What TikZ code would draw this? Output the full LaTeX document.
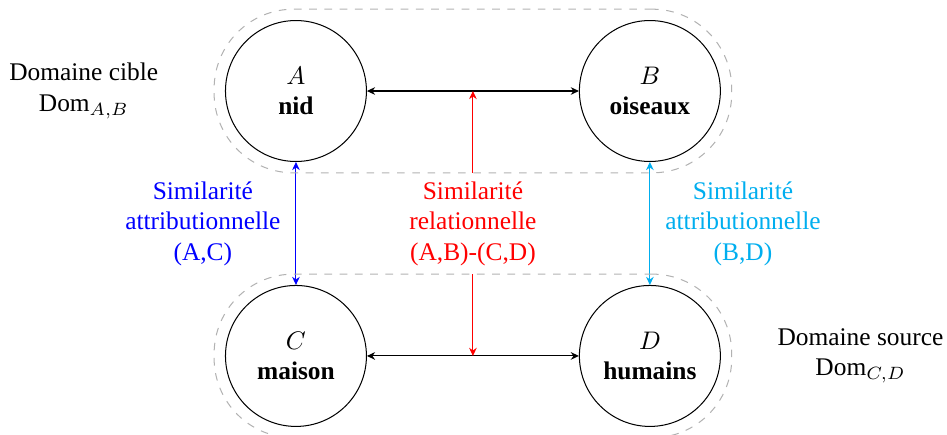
\documentclass[tikz,border=0pt]{standalone}
\usepackage{fontspec}
\setmainfont{Liberation Serif}
\usepackage{tikz}
\usetikzlibrary{positioning}
\usetikzlibrary{calc}
\usetikzlibrary{arrows.meta}
\usetikzlibrary{fit}
\definecolor{skyblue}{RGB}{0,174,239}

\begin{document}
\begin{tikzpicture}[
    >={Stealth[length=3.2pt,width=3pt]},
    concept/.style={circle, draw, minimum size=1.95cm, align=center, inner sep=0pt},
    groupe/.style={draw, dashed, gray!60, rounded corners=1.1cm, inner sep=0.15cm},
    sim/.style={<->}
]
    \useasboundingbox (0,0) rectangle (13.10,6.017);

    \node[concept] (A) at (4.094, 4.758) {$A$\\\textbf{nid}};
    \node[concept] (B) at (8.990, 4.758) {$B$\\\textbf{oiseaux}};
    \node[concept] (C) at (4.094, 1.093) {$C$\\\textbf{maison}};
    \node[concept] (D) at (8.990, 1.093) {$D$\\\textbf{humains}};

    \node[align=center, left=0.8cm of A] (cible) {Domaine cible\\Dom$_{A,B}$};
    \node[align=center, right=0.66cm of D] (source) {Domaine source\\Dom$_{C,D}$};

    \draw[sim] (A) -- (B) coordinate[midway] (ab);
    \draw[sim] (C) -- (D) coordinate[midway] (cd);

    \draw[sim, blue] (A) -- (C)
        node[midway, left=0.09cm, align=center] (attAC) {Similarité\\attributionnelle\\(A,C)};
    \draw[sim, skyblue] (B) -- (D)
        node[midway, right=0.09cm, align=center] (attBD) {Similarité\\attributionnelle\\(B,D)};
    \draw[sim, red] (ab) -- (cd)
        node[midway, fill=white, align=center] (rel) {Similarité\\relationnelle\\(A,B)-(C,D)};

    % domaines
    \node[groupe, fit=(A)(B)] (domAB) {};
    \node[groupe, fit=(C)(D)] (domCD) {};
\end{tikzpicture}
\end{document}
